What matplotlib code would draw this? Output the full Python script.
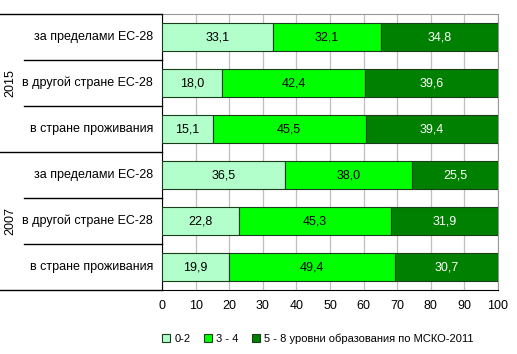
import matplotlib.pyplot as plt
from matplotlib.patches import Patch
from matplotlib.lines import Line2D

years = ["2015", "2007"]
categories = ["за пределами ЕС-28", "в другой стране ЕС-28", "в стране проживания",
              "за пределами ЕС-28", "в другой стране ЕС-28", "в стране проживания"]
low = [33.1, 18.0, 15.1, 36.5, 22.8, 19.9]
mid = [32.1, 42.4, 45.5, 38.0, 45.3, 49.4]
high = [34.8, 39.6, 39.4, 25.5, 31.9, 30.7]
series_names = ["0-2", "3 - 4", "5 - 8 уровни образования по МСКО-2011"]
colors = ["#b3ffcc", "#00ff00", "#008000"]
text_colors = ["black", "black", "white"]

plt.rcParams['font.family'] = ['Liberation Sans', 'DejaVu Sans']
plt.rcParams['font.size'] = 9

W, H = 517, 354
fig = plt.figure(figsize=(W / 100, H / 100), dpi=100)
x0, x1, y0, y1 = 162, 498, 14, 290
ax = fig.add_axes([x0 / W, 1 - y1 / H, (x1 - x0) / W, (y1 - y0) / H])

pos = list(range(len(categories)))
left = [0] * len(pos)
for vals, col, tc, name in zip([low, mid, high], colors, text_colors, series_names):
    bars = ax.barh(pos, vals, left=left, height=0.59, color=col, edgecolor="#1a3d1a",
                   linewidth=0.8, label=name, zorder=3)
    for b, v in zip(bars, vals):
        ax.text(b.get_x() + b.get_width() / 2, b.get_y() + b.get_height() / 2,
                f"{v:.1f}".replace(".", ","), ha="center", va="center",
                color=tc, fontsize=9, zorder=4)
    left = [l + v for l, v in zip(left, vals)]

ax.set_xlim(0, 100)
ax.set_ylim(5.5, -0.5)
ax.set_xticks(range(0, 101, 10))
ax.set_yticks([])
ax.tick_params(axis="x", length=0, pad=7)
ax.grid(axis="x", color="#bfbfbf", linewidth=0.9, zorder=0)
for s in ["top", "right"]:
    ax.spines[s].set_color("#999999")
for s in ["left", "bottom"]:
    ax.spines[s].set_color("black")

# category labels and separators in the left area
for i, c in enumerate(categories):
    fig.text(153 / W, 1 - (y0 + 23 + 46 * i) / H, c, ha="right", va="center", fontsize=9)
for i in range(7):
    yy = 1 - (y0 + 46 * i) / H
    xs = 0 if i in (0, 3, 6) else 24 / W
    fig.add_artist(Line2D([xs, x0 / W], [yy, yy], color="black", linewidth=1))
for j, yr in enumerate(years):
    fig.text(10 / W, 1 - (y0 + 69 + 138 * j) / H, yr, rotation=90, ha="center",
             va="center", fontsize=9)

handles = [Patch(facecolor=c, edgecolor="#1a3d1a", linewidth=0.8) for c in colors]
fig.legend(handles, series_names, loc="center", bbox_to_anchor=(318 / W, 1 - 339 / H),
           ncol=3, frameon=False, fontsize=8, handlelength=0.7, handleheight=0.7,
           handletextpad=0.4, columnspacing=1.2)

fig.savefig("out.png", dpi=100)
